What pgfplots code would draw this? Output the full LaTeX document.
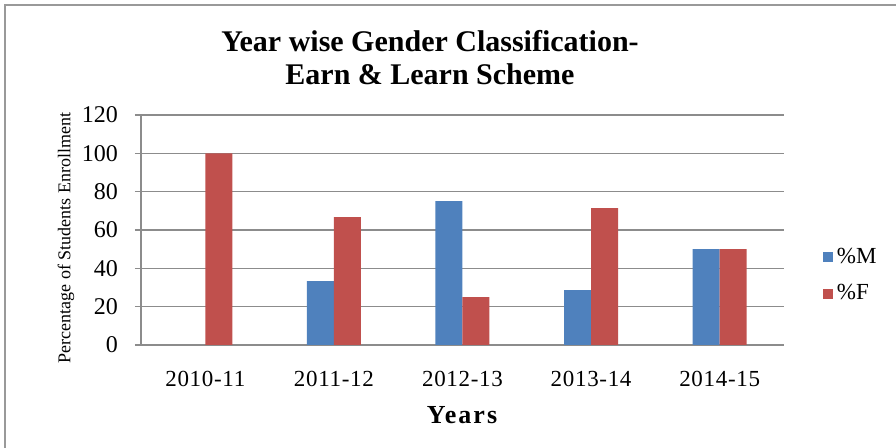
\documentclass[border=0pt]{standalone}
\usepackage{pgfplots}
\pgfplotsset{compat=1.18}
\usepackage{fontspec}
\setmainfont{Liberation Serif}
\newfontfamily\tickfont[LetterSpace=3]{Liberation Serif}
\definecolor{mblue}{HTML}{4F81BD}
\definecolor{fred}{HTML}{C0504D}
\definecolor{gridgray}{HTML}{8C8C8C}
\begin{document}
\begin{tikzpicture}
\useasboundingbox (0,0) rectangle (448pt,224pt);
\draw[gray!80, line width=1pt] (2.5pt,-1pt) -- (2.5pt,221.5pt) -- (449pt,221.5pt);
\begin{axis}[
  at={(70.5pt,51.5pt)}, anchor=south west,
  scale only axis, width=321.5pt, height=115pt,
  ybar=0pt, bar width=13.5pt,
  xmin=-0.5, xmax=4.5, ymin=0, ymax=120,
  xtick={0,1,2,3,4},
  xticklabels={2010-11,2011-12,2012-13,2013-14,2014-15},
  ytick={0,20,...,120},
  axis x line*=bottom, axis y line*=left,
  axis line style={gridgray, line width=0.6pt},
  ymajorgrids, grid style={gridgray, line width=0.6pt},
  major tick length=3pt,
  xtick style={draw=none},
  ytick style={gridgray, line width=0.6pt},
  tick align=outside,
  /pgf/number format/assume math mode=true,
  xticklabel style={font=\tickfont\fontsize{11.5}{13}\selectfont, yshift=-6.5pt},
  yticklabel style={font=\fontsize{12}{14}\selectfont, xshift=-5pt},
  legend style={at={(1.06,0.302)}, anchor=west, draw=none, fill=none,
    font=\fontsize{11.5}{13}\selectfont, row sep=5pt, inner sep=0pt},
  legend cell align=left,
  legend image code/.code={\fill[#1] (1pt,-2.5pt) rectangle (6pt,2.5pt);},
]
\addplot[fill=mblue, draw=none] coordinates {(1,33.33) (2,75) (3,28.57) (4,50)};
\addplot[fill=fred, draw=none] coordinates {(0,100) (1,66.67) (2,25) (3,71.43) (4,50)};
\legend{\%M,\%F}
\end{axis}
\node[align=center, font=\bfseries\fontsize{15}{16.5}\selectfont] at (215pt,195pt) {Year wise Gender Classification-\\Earn \& Learn Scheme};
\node[font=\bfseries\fontsize{13}{15}\selectfont] at (231pt,16.5pt) {\addfontfeature{LetterSpace=8}Years};
\node[rotate=90, font=\fontsize{9}{11}\selectfont] at (33pt,105pt) {Percentage of Students Enrollment};
\end{tikzpicture}
\end{document}
